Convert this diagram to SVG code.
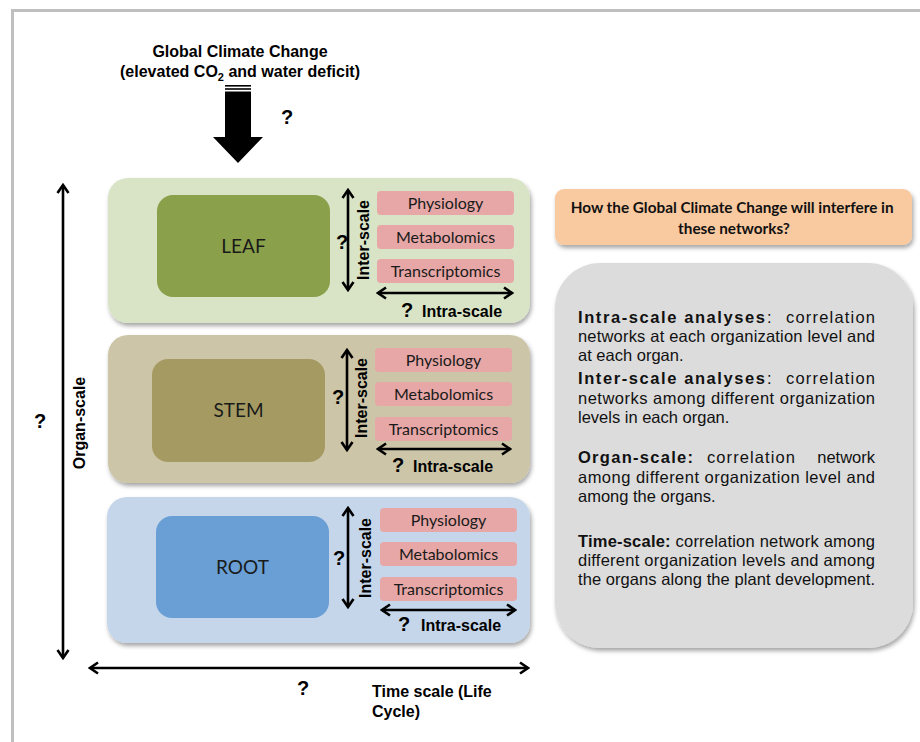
<svg xmlns="http://www.w3.org/2000/svg" width="920" height="742" viewBox="0 0 920 742">
  <defs>
    <style>
      .bold { font-family: "Liberation Sans", Arial, sans-serif; font-weight: bold; fill: #000; }
      .body { font-family: "Liberation Sans", Arial, sans-serif; font-size: 16.5px; fill: #111; }
      .organ { font-family: Lato, "Liberation Sans", sans-serif; font-size: 19px; fill: #1a1a1a; text-anchor: middle; }
      .layer { font-family: Lato, "Liberation Sans", sans-serif; font-size: 16px; fill: #1a1a1a; text-anchor: middle; }
      .q { font-family: "Liberation Sans", Arial, sans-serif; font-weight: bold; font-size: 20px; text-anchor: middle; }
      .axis { font-family: "Liberation Sans", Arial, sans-serif; font-weight: bold; font-size: 16px; }
      .pink { fill: #e6a7a6; }
      .conn { stroke: #000; stroke-width: 2.6; fill: none; marker-start: url(#chev); marker-end: url(#chev); }
    </style>
    <marker id="chev" viewBox="0 0 12 14" refX="10" refY="7" markerWidth="12" markerHeight="14" markerUnits="userSpaceOnUse" orient="auto-start-reverse">
      <path d="M2,1.5 L10,7 L2,12.5" fill="none" stroke="#000" stroke-width="2.6" stroke-linejoin="miter"/>
    </marker>
    <filter id="shadow" x="-10%" y="-10%" width="120%" height="130%">
      <feDropShadow dx="1.5" dy="3" stdDeviation="2" flood-color="#000" flood-opacity="0.35"/>
    </filter>
  </defs>

  <rect width="920" height="742" fill="#fff"/>
  <!-- outer frame -->
  <path d="M12.5,742 V10.5 H920" fill="none" stroke="#bfbfbf" stroke-width="3"/>

  <!-- heading and incoming climate arrow -->
  <g id="climate">
    <text class="bold" font-size="16" x="240" y="57" text-anchor="middle">Global Climate Change</text>
    <text class="bold" font-size="16" x="240" y="77" text-anchor="middle">(elevated CO<tspan font-size="11" dy="4">2</tspan><tspan dy="-4"> and water deficit)</tspan></text>
    <rect x="225" y="85" width="26" height="1.6" fill="#000"/>
    <rect x="225" y="88.2" width="26" height="1.6" fill="#000"/>
    <polygon points="225,91.5 251,91.5 251,137 263,137 238,163 213,137 225,137" fill="#000"/>
    <text class="q" x="287" y="124">?</text>
  </g>

  <!-- LEAF -->
  <g id="leaf">
    <rect x="108" y="178" width="422" height="145" rx="20" fill="#d8e4c5" filter="url(#shadow)"/>
    <rect x="157" y="195" width="173" height="102" rx="16" fill="#8ba04b"/>
    <text class="organ" x="243.5" y="253">LEAF</text>
    <rect class="pink" x="377" y="191" width="137" height="24" rx="4"/>
    <text class="layer" x="445.5" y="208.5">Physiology</text>
    <rect class="pink" x="377" y="225" width="137" height="24" rx="4"/>
    <text class="layer" x="445.5" y="242.5">Metabolomics</text>
    <rect class="pink" x="377" y="259" width="137" height="24" rx="4"/>
    <text class="layer" x="445.5" y="276.5">Transcriptomics</text>
    <text class="axis" transform="translate(369,240) rotate(-90)" text-anchor="middle">Inter-scale</text>
    <text class="q" x="342" y="249">?</text>
    <text class="q" x="407" y="317">?</text>
    <text class="axis" x="422" y="317">Intra-scale</text>
  </g>

  <!-- STEM -->
  <g id="stem">
    <rect x="108" y="335" width="422" height="148" rx="20" fill="#cdc5a7" filter="url(#shadow)"/>
    <rect x="152" y="359" width="173" height="103" rx="16" fill="#a69a63"/>
    <text class="organ" x="238.5" y="417">STEM</text>
    <rect class="pink" x="375" y="348" width="137" height="24" rx="4"/>
    <text class="layer" x="443.5" y="365.5">Physiology</text>
    <rect class="pink" x="375" y="382" width="137" height="24" rx="4"/>
    <text class="layer" x="443.5" y="399.5">Metabolomics</text>
    <rect class="pink" x="375" y="417" width="137" height="24" rx="4"/>
    <text class="layer" x="443.5" y="434.5">Transcriptomics</text>
    <text class="axis" transform="translate(367,398) rotate(-90)" text-anchor="middle">Inter-scale</text>
    <text class="q" x="338" y="404">?</text>
    <text class="q" x="398" y="472">?</text>
    <text class="axis" x="413" y="472">Intra-scale</text>
  </g>

  <!-- ROOT -->
  <g id="root">
    <rect x="107" y="497" width="423" height="146" rx="20" fill="#c5d6ea" filter="url(#shadow)"/>
    <rect x="156" y="516" width="173" height="102" rx="16" fill="#699fd4"/>
    <text class="organ" x="242.5" y="574">ROOT</text>
    <rect class="pink" x="380" y="508" width="137" height="24" rx="4"/>
    <text class="layer" x="448.5" y="525.5">Physiology</text>
    <rect class="pink" x="380" y="542" width="137" height="24" rx="4"/>
    <text class="layer" x="448.5" y="559.5">Metabolomics</text>
    <rect class="pink" x="380" y="577" width="137" height="24" rx="4"/>
    <text class="layer" x="448.5" y="594.5">Transcriptomics</text>
    <text class="axis" transform="translate(371,558) rotate(-90)" text-anchor="middle">Inter-scale</text>
    <text class="q" x="339" y="565">?</text>
    <text class="q" x="404" y="631">?</text>
    <text class="axis" x="421" y="631">Intra-scale</text>
  </g>

  <!-- scale axes -->
  <g id="axes">
    <text class="axis" font-size="15" transform="translate(85,423) rotate(-90)" text-anchor="middle">Organ-scale</text>
    <text class="q" x="40" y="428">?</text>
    <text class="q" x="303" y="695">?</text>
    <text class="axis" x="372" y="697">Time scale (Life</text>
    <text class="axis" x="372" y="717">Cycle)</text>
  </g>

  <!-- question box -->
  <g id="question">
    <rect x="555" y="189" width="357" height="56" rx="9" fill="#f9c9a0" filter="url(#shadow)"/>
    <text font-family="Lato, 'Liberation Sans', sans-serif" font-weight="bold" font-size="15.3" fill="#111" text-anchor="middle">
      <tspan x="734" y="213">How the Global Climate Change will interfere in</tspan>
      <tspan x="734" y="234">these networks?</tspan>
    </text>
  </g>

  <!-- definitions box: justified paragraphs, heading words letter-spaced -->
  <g id="definitions">
    <rect x="555" y="263" width="358" height="385" rx="45" fill="#dcdcdc" filter="url(#shadow)"/>
    <text class="body" font-weight="bold" x="578" y="323" textLength="187" lengthAdjust="spacing">Intra-scale analyses</text>
    <text class="body" x="767" y="323">:</text>
    <text class="body" x="786" y="323" textLength="89" lengthAdjust="spacing">correlation</text>
    <text class="body" x="578" y="342" textLength="297" lengthAdjust="spacing">networks at each organization level and</text>
    <text class="body" x="578" y="361">at each organ.</text>
    <text class="body" font-weight="bold" x="578" y="384" textLength="187" lengthAdjust="spacing">Inter-scale analyses</text>
    <text class="body" x="767" y="384">:</text>
    <text class="body" x="786" y="384" textLength="89" lengthAdjust="spacing">correlation</text>
    <text class="body" x="578" y="404" textLength="297" lengthAdjust="spacing">networks among different organization</text>
    <text class="body" x="578" y="423">levels in each organ.</text>
    <text class="body" font-weight="bold" x="578" y="463" textLength="115" lengthAdjust="spacing">Organ-scale:</text>
    <text class="body" x="707" y="463" textLength="88" lengthAdjust="spacing">correlation</text>
    <text class="body" x="875" y="463" text-anchor="end">network</text>
    <text class="body" x="578" y="483" textLength="297" lengthAdjust="spacing">among different organization level and</text>
    <text class="body" x="578" y="502">among the organs.</text>
    <text class="body" x="578" y="547" textLength="297" lengthAdjust="spacing"><tspan font-weight="bold">Time-scale:</tspan> correlation network among</text>
    <text class="body" x="578" y="566" textLength="297" lengthAdjust="spacing">different organization levels and among</text>
    <text class="body" x="578" y="585" textLength="297" lengthAdjust="spacing">the organs along the plant development.</text>
  </g>

  <!-- connectors -->
  <g id="connectors">
    <line class="conn" x1="348" y1="190" x2="348" y2="290"/>
    <line class="conn" x1="378" y1="293" x2="512" y2="293"/>
    <line class="conn" x1="347" y1="350" x2="347" y2="450"/>
    <line class="conn" x1="378" y1="449" x2="510" y2="449"/>
    <line class="conn" x1="348" y1="508" x2="348" y2="607"/>
    <line class="conn" x1="382" y1="610" x2="515" y2="610"/>
    <line class="conn" x1="63" y1="185" x2="63" y2="658"/>
    <line class="conn" x1="90" y1="668" x2="528" y2="668"/>
  </g>
</svg>
